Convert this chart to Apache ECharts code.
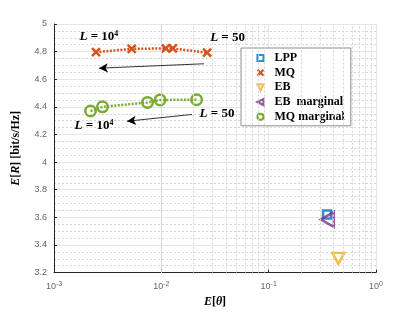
<!DOCTYPE html>
<html><head><meta charset="utf-8">
<script src="https://cdn.jsdelivr.net/npm/echarts@6/dist/echarts.min.js"></script>
<style>html,body{margin:0;padding:0;background:#fff}#c{width:415px;height:313px}</style>
</head><body><div id="c"></div>
<script>
// ---- data ----
const mqX = [0.00246, 0.0053, 0.011, 0.0128, 0.0267];
const mqY = [4.796, 4.82, 4.823, 4.823, 4.792];
const mqmX = [0.00219, 0.00283, 0.00743, 0.00973, 0.0213];
const mqmY = [4.37, 4.40, 4.432, 4.45, 4.452];
const lppPt = [0.350, 3.62];
const ebPt = [0.446, 3.303];
const ebmPt = [0.352, 3.585];
const seriesNames = ['LPP', 'MQ', 'EB', 'EB  marginal', 'MQ marginal'];
const xMinorTicks = [0.002,0.003,0.004,0.005,0.006,0.007,0.008,0.009,
  0.02,0.03,0.04,0.05,0.06,0.07,0.08,0.09,0.2,0.3,0.4,0.5,0.6,0.7,0.8,0.9];
const annotations = [
  {x: 0.00262, y: 4.907, text: '{i|L} = 10{s|4}'},
  {x: 0.0414, y: 4.902, text: '{i|L} = 50'},
  {x: 0.0330, y: 4.353, text: '{i|L} = 50'},
  {x: 0.00236, y: 4.264, text: '{i|L} = 10{s|4}'}
];
const arrows = [
  [[0.025, 4.712], [0.00262, 4.68]],
  [[0.0193, 4.345], [0.00479, 4.296]]
];

const C = {blue:'#0072BD', orange:'#D95319', yellow:'#EDB120', purple:'#7E2F8E', green:'#77AC30'};
const xPath = 'path://M0,0L10,10M10,0L0,10';
const downTri = 'path://M0,0L10,0L5,10Z';
const leftTri = 'path://M10,0L10,10L0,5Z';
const serif = 'Liberation Serif';

const zip = (a, b) => a.map((v, i) => [v, b[i]]);
const chart = echarts.init(document.getElementById('c'));
const annRich = {
  i: {fontFamily: serif, fontStyle: 'italic', fontWeight: 'bold', fontSize: 13, color: '#000'},
  s: {fontFamily: serif, fontWeight: 'bold', fontSize: 8, color: '#000', verticalAlign: 'bottom', padding: [0,0,6,0]}
};
const nameRich = {
  b: {fontFamily: serif, fontWeight: 'bold', fontStyle: 'italic', fontSize: 12, color: '#000'},
  i: {fontFamily: serif, fontWeight: 'bold', fontStyle: 'italic', fontSize: 12, color: '#000'}
};
chart.setOption({
  animation: false,
  grid: {left: 54, right: 39, top: 24, bottom: 36},
  xAxis: {
    type: 'log', logBase: 10, min: 0.001, max: 1,
    name: '{b|E}[{i|θ}]', nameLocation: 'middle', nameGap: 20,
    nameTextStyle: {rich: nameRich, fontFamily: serif, fontWeight: 'bold', fontSize: 12, color: '#000'},
    axisLine: {show: true, lineStyle: {color: '#262626', width: 1}},
    axisTick: {show: true, inside: true, length: 3, lineStyle: {color: '#262626'}},
    axisLabel: {
      formatter: v => { const e = Math.round(Math.log10(v)); return '10{s|' + e + '}'; },
      color: '#666', fontFamily: 'Liberation Sans', fontSize: 9, margin: 8,
      rich: {s: {fontSize: 7, color: '#666', fontFamily: 'Liberation Sans', verticalAlign: 'bottom', padding: [0,0,5,0]}}
    },
    splitLine: {show: true, lineStyle: {color: '#e6e6e6', width: 1}}
  },
  yAxis: {
    type: 'value', min: 3.2, max: 5, interval: 0.2,
    name: '{b|E}[{i|R}] [bit/s/Hz]', nameLocation: 'middle', nameGap: 32,
    nameTextStyle: {rich: nameRich, fontFamily: serif, fontWeight: 'bold', fontSize: 12, color: '#000'},
    axisLine: {show: true, lineStyle: {color: '#262626', width: 1}},
    axisTick: {show: true, inside: true, length: 3, lineStyle: {color: '#262626'}},
    axisLabel: {formatter: v => String(+v.toFixed(1)), color: '#666', fontFamily: 'Liberation Sans', fontSize: 9, margin: 7},
    splitLine: {show: true, lineStyle: {color: '#e6e6e6', width: 1}},
    minorTick: {show: false, splitNumber: 4},
    minorSplitLine: {show: true, lineStyle: {color: '#d6d6d6', width: 1, type: [2, 2]}}
  },
  legend: {
    orient: 'vertical', left: 241, top: 48,
    backgroundColor: '#fff', borderColor: '#8c8c8c', borderWidth: 1,
    padding: [4, 6, 3, 14], itemGap: 2.7, itemWidth: 6, itemHeight: 6,
    textStyle: {fontFamily: serif, fontWeight: 'bold', fontSize: 12, lineHeight: 12, color: '#000', padding: [0, 0, 0, 6]},
    data: [
      {name: seriesNames[0], icon: 'rect', itemStyle: {color: '#fff', borderColor: C.blue, borderWidth: 2.2}},
      {name: seriesNames[1], icon: xPath, itemStyle: {color: 'none', borderColor: C.orange, borderWidth: 2.2}},
      {name: seriesNames[2], icon: downTri, itemStyle: {color: '#fff', borderColor: C.yellow, borderWidth: 2.2}},
      {name: seriesNames[3], icon: leftTri, itemStyle: {color: '#fff', borderColor: C.purple, borderWidth: 2.2}},
      {name: seriesNames[4], icon: 'circle', itemStyle: {color: '#fff', borderColor: C.green, borderWidth: 2.2}}
    ]
  },
  series: [
    {type: 'line', silent: true, data: [], markLine: {
      silent: true, symbol: ['none', 'none'], label: {show: false},
      lineStyle: {color: '#d6d6d6', width: 1, type: [2, 2]},
      data: xMinorTicks.map(v => ({xAxis: v}))
    }, z: 1},
    {name: seriesNames[0], type: 'scatter', data: [lppPt], symbol: 'rect', symbolSize: 8,
      itemStyle: {color: '#fff', borderColor: C.blue, borderWidth: 2.5}, z: 3},
    {name: seriesNames[1], type: 'line', data: zip(mqX, mqY), symbol: xPath, symbolSize: 8,
      showAllSymbol: true,
      itemStyle: {color: 'none', borderColor: C.orange, borderWidth: 2.5},
      lineStyle: {color: C.orange, width: 2.5, type: [2, 1.5]}, z: 3,
      markLine: {silent: true, symbol: ['none', 'arrow'], symbolSize: [7, 9], label: {show: false},
        lineStyle: {color: '#000', width: 0.8, type: 'solid'},
        data: arrows.map(a => [{coord: a[0]}, {coord: a[1]}])},
      markPoint: {silent: true, symbol: 'circle', symbolSize: 1, itemStyle: {color: 'rgba(0,0,0,0)'},
        label: {show: true, position: 'inside', rich: annRich, fontFamily: serif, fontWeight: 'bold', fontSize: 13, color: '#000', formatter: p => p.data.t},
        data: annotations.map(a => ({coord: [a.x, a.y], t: a.text}))}
    },
    {name: seriesNames[2], type: 'scatter', data: [ebPt], symbol: downTri, symbolSize: [12, 11],
      itemStyle: {color: '#fff', borderColor: C.yellow, borderWidth: 2.5}, z: 3},
    {name: seriesNames[3], type: 'scatter', data: [ebmPt], symbol: leftTri, symbolSize: [13, 15],
      itemStyle: {color: 'rgba(255,255,255,0)', borderColor: C.purple, borderWidth: 2.5}, z: 4},
    {name: seriesNames[4], type: 'line', data: zip(mqmX, mqmY), symbol: 'circle', symbolSize: 10.5,
      showAllSymbol: true,
      itemStyle: {color: 'rgba(255,255,255,0)', borderColor: C.green, borderWidth: 2.5},
      lineStyle: {color: C.green, width: 2.5, type: [2, 1.5]}, z: 3}
  ]
});
</script></body></html>
